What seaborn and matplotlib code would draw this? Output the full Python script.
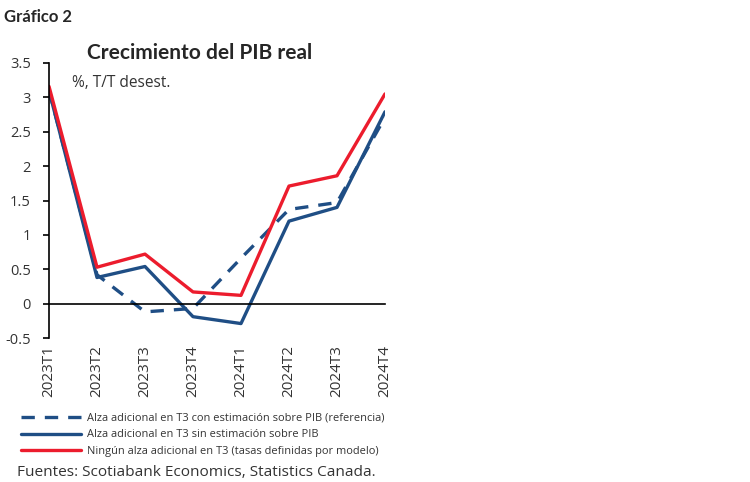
import numpy as np
import pandas as pd
import matplotlib
matplotlib.use("Agg")
import matplotlib.pyplot as plt
import seaborn as sns

# ── Data ──────────────────────────────────────────────────────────────────────
quarters = ["2023T1", "2023T2", "2023T3", "2023T4",
            "2024T1", "2024T2", "2024T3", "2024T4"]
con_estimacion = [3.10, 0.42, -0.12, -0.07, 0.66, 1.37, 1.47, 2.71]
sin_estimacion = [3.10, 0.38, 0.54, -0.19, -0.29, 1.20, 1.40, 2.79]
ningun_alza = [3.16, 0.53, 0.72, 0.17, 0.12, 1.71, 1.86, 3.05]

labels = [
    "Alza adicional en T3 con estimación sobre PIB (referencia)",
    "Alza adicional en T3 sin estimación sobre PIB",
    "Ningún alza adicional en T3 (tasas definidas por modelo)",
]
y_ticks = [-0.5, 0, 0.5, 1, 1.5, 2, 2.5, 3, 3.5]

BLUE = "#1F4E85"
RED = "#EC1C2D"
TXT = "#333333"

sns.set_style("white")
plt.rcParams["font.family"] = ["Open Sans", "DejaVu Sans"]
BOLD = ["Lato", "DejaVu Sans"]

df = pd.DataFrame({
    "pos": np.arange(len(quarters)),
    "con": con_estimacion,
    "sin": sin_estimacion,
    "ningun": ningun_alza,
})

fig = plt.figure(figsize=(7.5, 4.82), dpi=100)
ax = fig.add_axes([49 / 750, 1 - 338 / 482, 336 / 750, 275 / 482])

lw = 2.4
sns.lineplot(data=df, x="pos", y="con", ax=ax, color=BLUE, lw=lw,
             label=labels[0])
ax.lines[-1].set_dashes([4, 3])
sns.lineplot(data=df, x="pos", y="sin", ax=ax, color=BLUE, lw=lw,
             label=labels[1])
sns.lineplot(data=df, x="pos", y="ningun", ax=ax, color=RED, lw=lw,
             label=labels[2])

ax.set_xlim(0, len(quarters) - 1)
ax.set_ylim(-0.5, 3.5)
ax.set_yticks(y_ticks)
ax.set_yticklabels([f"{v:g}" for v in y_ticks], fontsize=10.5, color=TXT)
ax.set_xlabel("")
ax.set_ylabel("")

for s in ["top", "right"]:
    ax.spines[s].set_visible(False)
ax.spines["left"].set_color("black")
ax.spines["left"].set_linewidth(1.2)
ax.spines["bottom"].set_position(("data", 0))
ax.spines["bottom"].set_color("black")
ax.spines["bottom"].set_linewidth(1.2)

ax.set_xticks(df["pos"])
ax.set_xticklabels([])
ax.tick_params(axis="x", direction="out", length=5, width=1.2, color="black")
ax.tick_params(axis="y", direction="out", length=4, width=1.2, color="black",
               left=True, pad=9)

# quarter labels along the bottom of the plot area
sec = ax.secondary_xaxis(0)
sec.set_xticks(df["pos"])
sec.set_xticklabels(quarters, rotation=90, fontsize=11, color=TXT)
sec.tick_params(length=0, pad=5)
sec.spines["bottom"].set_visible(False)

# ── Text ──────────────────────────────────────────────────────────────────────
fig.text(4 / 750, 1 - 17 / 482, "Gráfico 2", fontsize=12, fontweight="bold",
         family=BOLD, va="center", ha="left")
fig.text(200 / 750, 1 - 53 / 482, "Crecimiento del PIB real", fontsize=15,
         fontweight="bold", family=BOLD, va="center", ha="center")
fig.text(72 / 750, 1 - 83 / 482, "%, T/T desest.", fontsize=11.2,
         color=TXT, va="center", ha="left")
fig.text(17 / 750, 1 - 472 / 482,
         "Fuentes: Scotiabank Economics, Statistics Canada.",
         fontsize=11.1, color=TXT, va="center", ha="left")

leg = ax.legend(loc="upper left", bbox_to_anchor=(21 / 750, 1 - 413 / 482),
                bbox_transform=fig.transFigure, frameon=False, fontsize=7.9,
                handlelength=5.5, handletextpad=0.55, labelspacing=0.5,
                borderpad=0, borderaxespad=0)
for t in leg.get_texts():
    t.set_color(TXT)

fig.savefig("out.png", dpi=100)
